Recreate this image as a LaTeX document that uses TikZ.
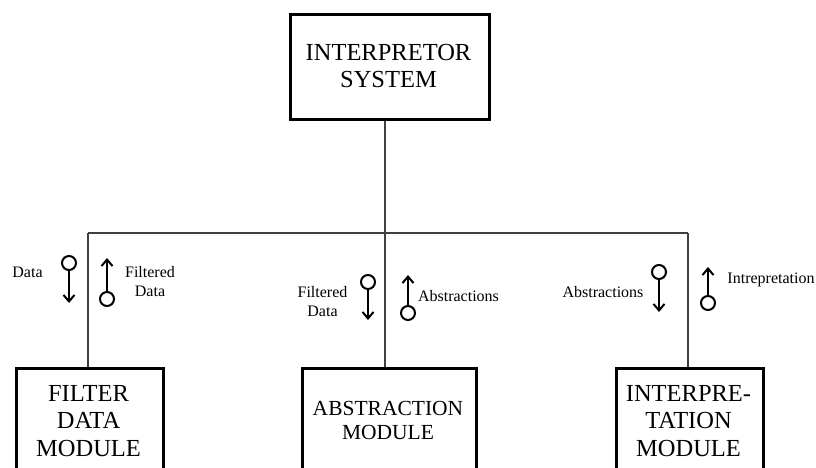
\documentclass[tikz,border=0pt]{standalone}
\usepackage{fontspec}
\setmainfont{Liberation Serif}
\usetikzlibrary{arrows.meta}
\begin{document}
\begin{tikzpicture}[x=1pt,y=-1pt,
 box/.style={draw, line width=3pt, inner sep=0pt, anchor=north west},
 big/.style={font=\fontsize{24.5}{27.5}\selectfont, align=center, inner sep=0pt},
 small/.style={font=\fontsize{16}{19}\selectfont, align=center, inner sep=0pt},
 wire/.style={draw=black!75, line width=1.2pt},
 ring/.style={circle, draw, line width=2pt, minimum size=14pt, inner sep=0pt},
 flow/.style={line width=2pt, -{Straight Barb[length=6.5pt,width=11pt]}}]
\useasboundingbox (0,0) rectangle (816,468);
\clip (0,0) rectangle (816,468);
\fill[white] (0,0) rectangle (816,468);

% boxes
\node[box, minimum width=199pt, minimum height=105pt] (sys) at (289,13) {};
\node[big] (syst) at (388.5,66) {INTERPRETOR\\SYSTEM};

\node[box, minimum width=147pt, minimum height=130pt] (fil) at (15,367) {};
\node[big] (filt) at (88.5,421) {FILTER\\DATA\\MODULE};

\node[box, minimum width=174pt, minimum height=130pt] (abs) at (301,367) {};
\node[big, font=\fontsize{21.5}{23.5}\selectfont] (abst) at (388,420.5) {ABSTRACTION\\MODULE};

\node[box, minimum width=147pt, minimum height=130pt] (int) at (615,367) {};
\node[big] (intt) at (688.5,421) {INTERPRE-\\TATION\\MODULE};

% wires
\coordinate (j1) at (88,233);
\coordinate (j2) at (385,233);
\coordinate (j3) at (688,233);
\draw[wire] (j1) -- (j3);
\draw[wire] (sys.south -| j2) -- (j2) -- (abs.north -| j2);
\draw[wire] (j1) -- (fil.north -| j1);
\draw[wire] (j3) -- (int.north -| j3);

% left flows
\node[ring] (r1) at (69,263) {};
\coordinate (a1) at (69,303);
\draw[flow] (r1.south) -- (a1);
\node[ring] (r2) at (107,299) {};
\coordinate (a2) at (107,258);
\draw[flow] (r2.north) -- (a2);
\node[small] (l1) at (27.5,272) {Data};
\node[small] (l2) at (150,281.5) {Filtered\\Data};

% middle flows
\node[ring] (r3) at (368,282) {};
\coordinate (a3) at (368,320);
\draw[flow] (r3.south) -- (a3);
\node[ring] (r4) at (408,313) {};
\coordinate (a4) at (408,275);
\draw[flow] (r4.north) -- (a4);
\node[small] (l3) at (322.5,301.5) {Filtered\\Data};
\node[small] (l4) at (458.5,296) {Abstractions};

% right flows
\node[ring] (r5) at (659,272) {};
\coordinate (a5) at (659,312);
\draw[flow] (r5.south) -- (a5);
\node[ring] (r6) at (708,303) {};
\coordinate (a6) at (708,267);
\draw[flow] (r6.north) -- (a6);
\node[small] (l5) at (603,292) {Abstractions};
\node[small] (l6) at (771,280) {Intrepretation};
\end{tikzpicture}
\end{document}
